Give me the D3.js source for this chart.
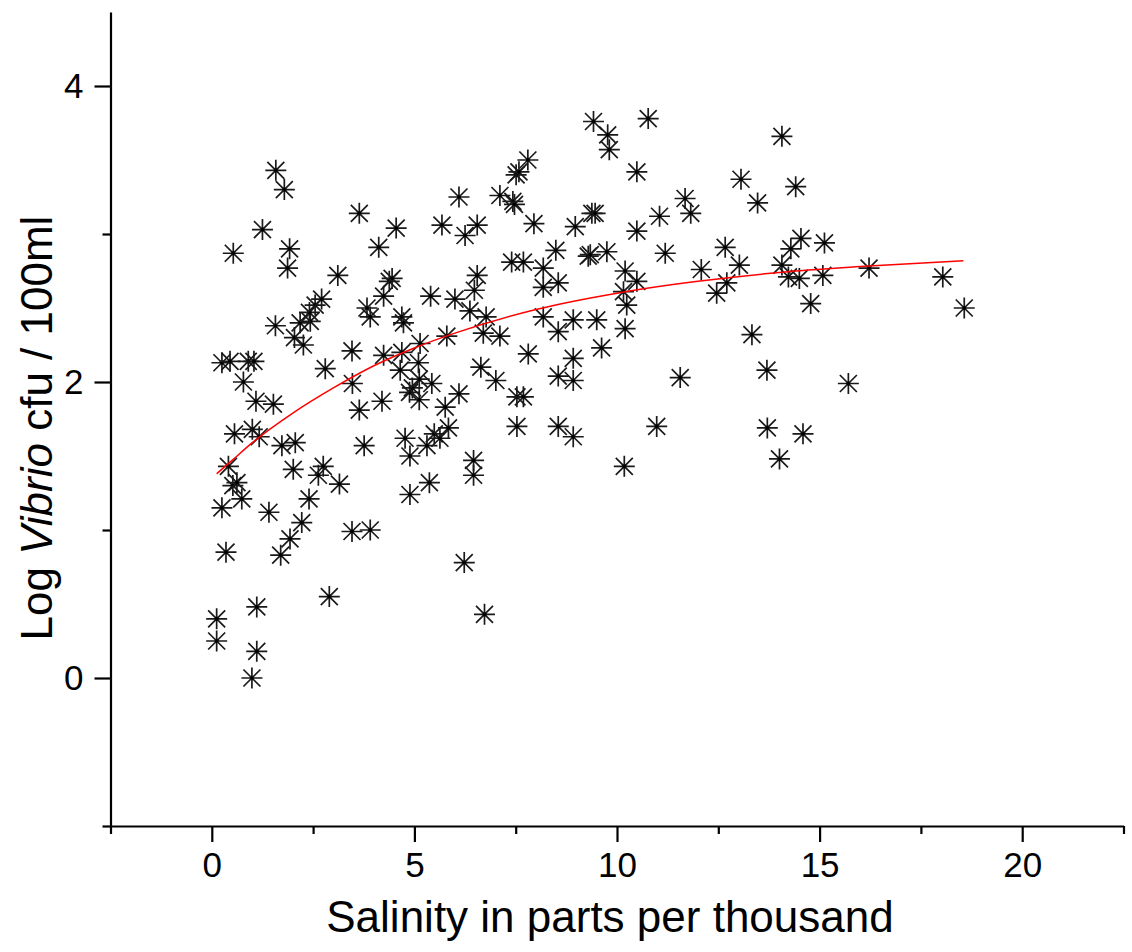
<!DOCTYPE html>
<html>
<head>
<meta charset="utf-8">
<script src="https://cdn.jsdelivr.net/npm/d3@7"></script>
<style>
  html, body { margin: 0; padding: 0; background: #fff; }
  svg { display: block; font-family: "Liberation Sans", Arial, sans-serif; }
</style>
</head>
<body>
<svg id="chart" width="1132" height="952"></svg>
<script>
// Salinity (ppt) of each water sample
const salinity = [
  0.12, 0.12, 0.25, 0.35, 0.25, 0.45, 0.90, 1.04, 0.41, 0.52,
  0.62, 0.56, 0.53, 0.78, 0.74, 0.99, 1.11, 1.11, 1.00, 1.09,
  1.25, 1.41, 1.57, 1.52, 1.58, 1.79, 1.70, 1.73, 1.92, 1.87,
  1.93, 2.06, 2.01, 2.04, 2.18, 2.26, 2.22, 2.40, 2.43, 2.41,
  2.55, 2.71, 2.63, 2.75, 2.90, 2.80, 3.15, 3.11, 3.46, 3.46,
  3.47, 3.64, 3.64, 3.76, 3.91, 3.83, 3.91, 4.12, 4.20, 4.24,
  4.24, 4.38, 4.45, 4.55, 4.69, 4.73, 4.69, 4.65, 4.77, 4.89,
  4.89, 4.88, 4.95, 5.10, 5.12, 5.12, 5.14, 5.43, 5.40, 5.37,
  5.49, 5.63, 5.31, 5.76, 5.84, 5.80, 5.68, 6.00, 6.10, 6.10,
  6.23, 6.25, 6.37, 6.48, 6.55, 6.55, 6.46, 6.46, 6.64, 6.73,
  6.70, 6.77, 7.01, 7.11, 7.11, 7.43, 7.47, 7.51, 7.58, 7.80,
  7.40, 7.69, 7.53, 7.69, 7.53, 7.81, 7.95, 8.18, 8.18, 8.18,
  8.49, 8.55, 8.55, 8.55, 8.55, 8.92, 8.92, 8.92, 8.92, 8.97,
  9.50, 9.29, 9.34, 9.38, 9.46, 9.42, 9.62, 9.75, 9.77, 9.81,
  10.20, 10.16, 10.24, 10.20, 10.18, 10.49, 10.49, 10.49, 10.77, 11.05,
  10.98, 11.19, 11.56, 11.68, 11.82, 12.08, 12.46, 12.71, 12.67, 13.02,
  13.06, 13.33, 13.47, 13.70, 13.71, 14.01, 14.07, 14.07, 14.23, 14.29,
  14.41, 14.50, 14.54, 14.59, 14.78, 15.08, 15.12, 15.71, 16.22, 18.04,
  18.57, 1.17
];

// Log10 Vibrio count per 100 ml for the same samples
const logVibrio = [
  0.40, 0.25, 1.15, 0.85, 2.13, 2.14, 2.14, 2.14, 1.43, 1.30,
  1.32, 1.65, 2.87, 2.00, 1.21, 0.00, 0.48, 0.18, 1.68, 1.87,
  3.03, 1.12, 2.38, 1.85, 3.43, 3.30, 0.83, 1.57, 2.90, 2.77,
  0.94, 1.59, 1.41, 2.30, 2.40, 2.25, 1.05, 1.21, 2.41, 2.47,
  2.52, 2.56, 1.37, 1.43, 0.55, 2.09, 1.31, 2.72, 0.99, 2.21,
  1.99, 3.14, 1.81, 1.57, 1.00, 2.50, 2.44, 2.91, 1.87, 2.18,
  2.58, 2.68, 2.70, 3.04, 2.44, 2.40, 2.20, 2.08, 1.62, 1.50,
  1.24, 1.93, 1.96, 2.13, 2.02, 1.88, 2.26, 1.99, 2.58, 1.32,
  1.65, 1.62, 1.57, 1.83, 1.69, 2.31, 3.06, 2.56, 3.25, 1.92,
  0.78, 2.99, 2.48, 2.62, 2.72, 3.06, 1.47, 1.37, 2.10, 0.43,
  2.33, 2.44, 2.01, 2.31, 3.26, 3.22, 3.20, 3.40, 3.42, 3.50,
  2.81, 2.81, 1.90, 1.90, 1.70, 2.19, 3.07, 2.77, 2.64, 2.44,
  2.89, 2.67, 2.34, 2.04, 1.70, 2.42, 2.16, 2.01, 1.63, 3.05,
  2.42, 2.85, 2.86, 3.14, 3.14, 3.76, 2.23, 2.88, 3.67, 3.57,
  2.75, 2.61, 2.52, 2.36, 1.43, 3.42, 3.02, 2.68, 3.78, 3.12,
  1.70, 2.87, 2.03, 3.24, 3.14, 2.76, 2.60, 2.67, 2.91, 2.79,
  3.37, 2.32, 3.21, 2.08, 1.69, 1.48, 3.66, 2.79, 2.71, 2.90,
  3.32, 2.70, 2.97, 1.65, 2.53, 2.72, 2.94, 1.99, 2.77, 2.71,
  2.50, 1.63
];

// Fitted trend line, sampled along salinity
const fitSalinity = [0.12, 0.5, 1, 2, 3, 4, 5, 6, 8, 10, 12, 14, 16, 18.55];
const fitLogVibrio = [1.38, 1.47, 1.59, 1.79, 1.96, 2.11, 2.23, 2.33, 2.49, 2.60, 2.68, 2.74, 2.78, 2.82];

// Axis ticks
const xMajorTicks = [0, 5, 10, 15, 20];
const xMinorTicks = [-2.5, 2.5, 7.5, 12.5, 17.5, 22.5];
const yMajorTicks = [0, 2, 4];
const yMinorTicks = [-1, 1, 3];

const svg = d3.select("#chart");

const x = d3.scaleLinear().domain([-2.5, 22.5]).range([110.5, 1123.5]);
const y = d3.scaleLinear().domain([-1, 4.5]).range([826, 12]);

const axisColor = "#000";
const fmt = d3.format("d");

// Bottom axis: major ticks labelled, minor ticks unlabelled
const xAxisMajor = d3.axisBottom(x).tickValues(xMajorTicks).tickFormat(fmt)
  .tickSize(16).tickSizeOuter(0).tickPadding(10);
const xAxisMinor = d3.axisBottom(x).tickValues(xMinorTicks).tickSize(8).tickSizeOuter(0).tickFormat("");

svg.append("g").attr("transform", `translate(0,${y(-1)})`).call(xAxisMajor);
svg.append("g").attr("transform", `translate(0,${y(-1)})`).call(xAxisMinor).select(".domain").remove();

// Left axis
const yAxisMajor = d3.axisLeft(y).tickValues(yMajorTicks).tickFormat(fmt)
  .tickSize(16).tickSizeOuter(0).tickPadding(11);
const yAxisMinor = d3.axisLeft(y).tickValues(yMinorTicks).tickSize(8).tickSizeOuter(0).tickFormat("");

svg.append("g").attr("transform", `translate(${x(-2.5)},0)`).call(yAxisMajor);
svg.append("g").attr("transform", `translate(${x(-2.5)},0)`).call(yAxisMinor).select(".domain").remove();

svg.selectAll(".domain").attr("stroke", axisColor).attr("stroke-width", 2.2);
svg.selectAll(".tick line").attr("stroke", axisColor).attr("stroke-width", 2.2);
svg.selectAll(".tick text")
  .attr("fill", "#000")
  .style("font-family", "'Liberation Sans', Arial, sans-serif")
  .style("font-size", "35px");

// Axis titles
svg.append("text")
  .attr("x", 610)
  .attr("y", 932)
  .attr("text-anchor", "middle")
  .style("font-size", "44px")
  .attr("fill", "#000")
  .text("Salinity in parts per thousand");

const yTitle = svg.append("text")
  .attr("transform", "translate(52,428) rotate(-90)")
  .attr("text-anchor", "middle")
  .style("font-size", "44px")
  .attr("fill", "#000");
yTitle.append("tspan").text("Log ");
yTitle.append("tspan").style("font-style", "italic").text("Vibrio");
yTitle.append("tspan").text(" cfu / 100ml");

// Asterisk markers
const r = 10.5, d = 8.5;
const starPath = `M${-r},0H${r}M0,${-r}V${r}M${-d},${-d}L${d},${d}M${-d},${d}L${d},${-d}`;

const points = salinity.map((s, i) => ({ s, v: logVibrio[i] }));

const star = svg.append("g").selectAll("g.pt").data(points).join("g")
  .attr("class", "pt")
  .attr("transform", p => `translate(${x(p.s)},${y(p.v)})`);
star.append("path")
  .attr("d", starPath)
  .attr("fill", "none")
  .attr("stroke", "#1a1a1a")
  .attr("stroke-width", 1.7);
star.append("circle")
  .attr("r", 1.8)
  .attr("fill", "#000");

// Trend line
const fit = fitSalinity.map((s, i) => [s, fitLogVibrio[i]]);
svg.append("path")
  .datum(fit)
  .attr("fill", "none")
  .attr("stroke", "#ff0000")
  .attr("stroke-width", 1.5)
  .attr("d", d3.line().x(p => x(p[0])).y(p => y(p[1])).curve(d3.curveMonotoneX));
</script>
</body>
</html>
